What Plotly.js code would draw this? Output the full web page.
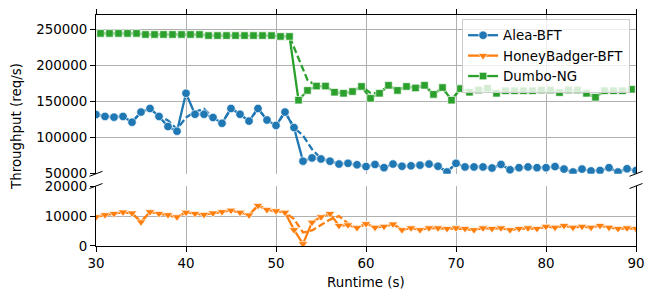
<!DOCTYPE html>
<html>
<head>
<meta charset="utf-8">
<script src="https://cdn.plot.ly/plotly-3.0.1.min.js"></script>
<style>html,body{margin:0;padding:0;background:#fff;}</style>
</head>
<body>
<div id="chart" style="width:655px;height:299px;"></div>
<script>
// Time axis (seconds)
const timeAlea = [30,31,32,33,34,35,36,37,38,39,40,41,42,43,44,45,46,47,48,49,50,51,52,53,54,55,56,57,58,59,60,61,62,63,64,65,66,67,68,69,70,71,72,73,74,75,76,77,78,79,80,81,82,83,84,85,86,87,88,89,90];
const timeHB = timeAlea;
const timeDumbo = [30.5,31.5,32.5,33.5,34.5,35.5,36.5,37.5,38.5,39.5,40.5,41.5,42.5,43.5,44.5,45.5,46.5,47.5,48.5,49.5,50.5,51.5,52.5,53.5,54.5,55.5,56.5,57.5,58.5,59.5,60.5,61.5,62.5,63.5,64.5,65.5,66.5,67.5,68.5,69.5,70.5,71.5,72.5,73.5,74.5,75.5,76.5,77.5,78.5,79.5,80.5,81.5,82.5,83.5,84.5,85.5,86.5,87.5,88.5,89.5];

// Alea-BFT
const aleaMarked = [132000,129500,128500,129500,121500,135500,140500,129500,115500,109000,161500,132500,132500,128000,120000,140500,132500,123000,140500,124500,117000,135500,114000,67500,72000,70500,67500,63500,64500,62500,60000,63000,58500,63500,60500,61000,62000,63500,60500,52500,64500,59500,59500,59500,58000,63000,55500,58500,59500,58500,58500,60000,56500,52500,56500,54000,54500,58500,52500,57000,54500];
const aleaDashed = [132000,129500,128500,129500,121500,135500,140500,129500,124000,112000,128000,136000,140000,128000,120000,140500,132500,123000,140500,124500,117000,135500,114000,103000,84000,71000,67500,63500,64500,62500,60000,63000,58500,63500,60500,61000,62000,63500,60500,52500,64500,59500,59500,59500,58000,63000,55500,58500,59500,58500,58500,60000,56500,52500,56500,54000,54500,58500,52500,57000,54500];

// HoneyBadger-BFT
const hbMarked = [9700,10400,10800,11300,11000,8000,11400,10800,10400,9700,11200,10800,10500,11000,11400,11900,11200,10300,13500,12100,11700,11200,5400,700,7900,9700,10800,6800,7000,6100,7400,6200,6500,7300,5400,6000,5400,6000,6000,5800,6000,5800,5400,6000,5800,6000,5400,5800,6000,5800,6500,6200,6800,6200,6500,6200,6800,6200,5800,6000,5800];
const hbDashed = [9700,10400,10800,11300,11000,8000,11400,10800,10400,9700,11200,10800,10500,11000,11400,11900,11200,10300,13500,12100,11700,11200,9000,4500,5200,7000,8800,10000,7500,6100,7400,6200,6500,7300,5400,6000,5400,6000,6000,5800,6000,5800,5400,6000,5800,6000,5400,5800,6000,5800,6500,6200,6800,6200,6500,6200,6800,6200,5800,6000,5800];

// Dumbo-NG
const dumboMarked = [244500,244500,244500,244500,244500,243000,243000,243000,243000,243000,243000,243000,241500,241500,241500,241500,241500,241500,241500,241500,240300,240300,152000,165500,171500,171500,163000,161500,164000,171000,154500,161500,172500,165500,171000,169000,172500,160000,169500,152000,168000,163000,166000,168500,161500,165000,165000,165000,165000,166000,166000,162500,166000,166000,161500,156000,165000,165000,165000,167000];
const dumboDashed = [244500,244500,244500,244500,244500,243000,243000,243000,243000,243000,243000,243000,241500,241500,241500,241500,241500,241500,241500,241500,240300,240300,210000,180000,171500,171500,163000,161500,164000,171000,162000,161500,172500,165500,171000,169000,172500,160000,169500,152000,168000,163000,166000,168500,161500,165000,165000,165000,165000,166000,166000,162500,166000,166000,161500,156000,165000,165000,165000,167000];

const xTicks = [30,40,50,60,70,80,90];
const yTicksTop = [50000,100000,150000,200000,250000];
const yTicksBottom = [0,10000,20000];

const BLUE = '#1f77b4', ORANGE = '#ff7f0e', GREEN = '#2ca02c';
const FS = 13.4;

function dashedTrace(x, y, color, xa, ya) {
  return {x: x, y: y, xaxis: xa, yaxis: ya, type: 'scatter', mode: 'lines',
    line: {color: color, width: 2.3, dash: '7px,3px'}, showlegend: false, hoverinfo: 'skip'};
}
function markedTrace(x, y, color, symbol, size, name, xa, ya) {
  return {x: x, y: y, xaxis: xa, yaxis: ya, type: 'scatter', mode: 'lines+markers', name: name,
    line: {color: color, width: 2.3},
    marker: {color: color, symbol: symbol, size: size, line: {color: 'white', width: 0.7}}};
}

const data = [
  dashedTrace(timeAlea, aleaDashed, BLUE, 'x2', 'y2'),
  dashedTrace(timeHB, hbDashed, ORANGE, 'x', 'y'),
  dashedTrace(timeDumbo, dumboDashed, GREEN, 'x2', 'y2'),
  markedTrace(timeAlea, aleaMarked, BLUE, 'circle', 8.5, 'Alea-BFT', 'x2', 'y2'),
  markedTrace(timeHB, hbMarked, ORANGE, 'triangle-down', 8.5, 'HoneyBadger-BFT', 'x', 'y'),
  markedTrace(timeDumbo, dumboMarked, GREEN, 'square', 7.5, 'Dumbo-NG', 'x2', 'y2')
];

const axisCommon = {
  showline: true, linecolor: 'black', linewidth: 1,
  ticks: 'outside', ticklen: 5, tickwidth: 1, tickcolor: 'black',
  showgrid: true, gridcolor: '#b0b0b0', gridwidth: 1, zeroline: false
};

const topB = 0.3126, botT = 0.2597;
const dx = 6.5/540, dy = 2.5/231;
const shapes = [];
[0, 1].forEach(function (xx) {
  [topB, botT].forEach(function (yy) {
    shapes.push({type: 'line', xref: 'paper', yref: 'paper',
      x0: xx - dx, y0: yy - dy, x1: xx + dx, y1: yy + dy,
      line: {color: 'black', width: 1}});
  });
});

const layout = {
  width: 655, height: 299,
  margin: {l: 96, r: 19, t: 15, b: 53},
  paper_bgcolor: 'white', plot_bgcolor: 'white',
  font: {family: 'DejaVu Sans', size: FS, color: 'black'},
  showlegend: true,
  xaxis: Object.assign({}, axisCommon, {domain: [0, 1], range: [30, 90], anchor: 'y',
    tickvals: xTicks, side: 'bottom'}),
  yaxis: Object.assign({}, axisCommon, {domain: [0, botT], range: [0, 20000], anchor: 'x',
    tickvals: yTicksBottom, tickformat: 'd', mirror: true}),
  xaxis2: Object.assign({}, axisCommon, {domain: [0, 1], range: [30, 90], anchor: 'y2',
    tickvals: xTicks, side: 'top', showticklabels: false}),
  yaxis2: Object.assign({}, axisCommon, {domain: [topB, 1], range: [50000, 270000], anchor: 'x2',
    tickvals: yTicksTop, tickformat: 'd', mirror: true}),
  legend: {x: 0.989, xanchor: 'right', y: (246 - 19) / 231, yanchor: 'top',
    bgcolor: 'rgba(255,255,255,0.8)', bordercolor: '#cccccc', borderwidth: 1,
    font: {size: FS}, itemwidth: 30, tracegroupgap: 0},
  shapes: shapes,
  annotations: [
    {text: 'Runtime (s)', xref: 'paper', yref: 'paper', x: 0.5, y: (246 - 282) / 231,
      xanchor: 'center', yanchor: 'middle', showarrow: false, font: {size: FS}},
    {text: 'Throughput (req/s)', xref: 'paper', yref: 'paper', x: (16 - 96) / 540, y: (246 - 127) / 231,
      xanchor: 'center', yanchor: 'middle', showarrow: false, textangle: -90, font: {size: FS}}
  ]
};

Plotly.newPlot('chart', data, layout, {staticPlot: true, displayModeBar: false});
</script>
</body>
</html>
